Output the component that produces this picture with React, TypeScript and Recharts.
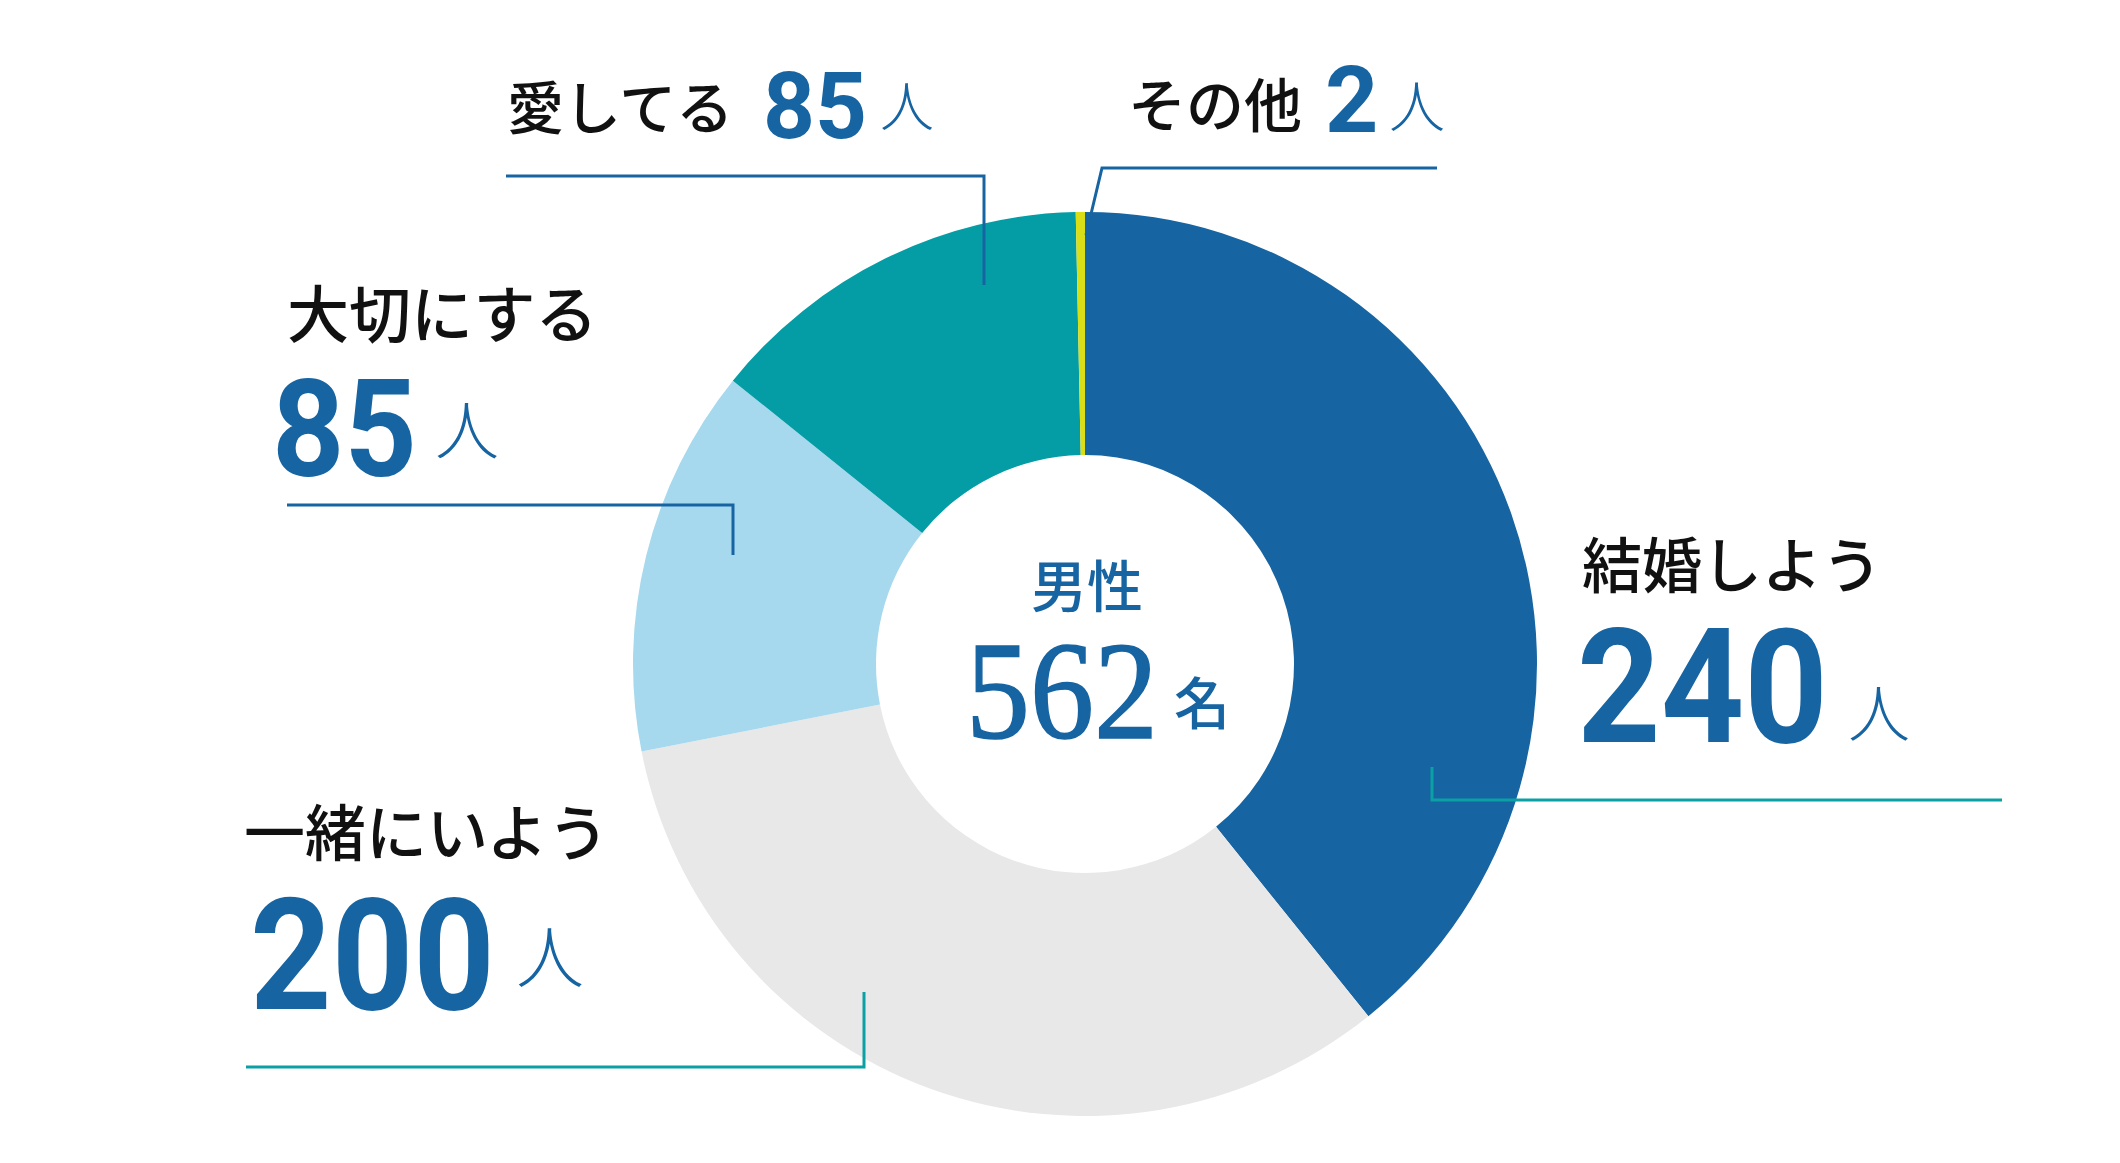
import React from 'react';
import { PieChart, Pie, Cell } from 'recharts';

// Survey answers (men), drawn clockwise from 12 o'clock
const categories = ['結婚しよう', '一緒にいよう', '大切にする', '愛してる', 'その他'];
const counts = [240, 200, 85, 85, 2];
const groupLabel = '男性';
const totalLabel = '562';
const unitPeople = '人';
const unitTotal = '名';

const sliceColors = ['#1664a2', '#e8e8e8', '#a6d9ee', '#049ca5', '#d9de16'];

const data = categories.map((name, i) => ({ name, value: counts[i] }));

const BLUE = '#1664a2';
const TEAL = '#0aa0a4';
const JP = '"Noto Sans CJK JP", "Noto Sans", sans-serif';
const NUM = 'Roboto, "Liberation Sans", sans-serif';
const SERIF = "'Liberation Serif', 'DejaVu Serif', 'Noto Serif', 'Noto Serif CJK JP', 'Times New Roman', Tinos, serif";

// label layout, offsets from the pie centre
const callouts = [
  {
    name: { x: 497, y: -76, size: 60 },
    num: { x: 492, y: 78, size: 160, len: 251 },
    unit: { x: 794, y: 73, size: 62 },
    line: [[347, 103], [347, 136], [917, 136]],
    lineColor: TEAL,
  },
  {
    name: { x: -841, y: 192, size: 61 },
    num: { x: -835, y: 345, size: 156, len: 245 },
    unit: { x: -535, y: 319, size: 68 },
    line: [[-221, 328], [-221, 403], [-839, 403]],
    lineColor: TEAL,
  },
  {
    name: { x: -798, y: -326, size: 62 },
    num: { x: -813, y: -188, size: 135, len: 145 },
    unit: { x: -618, y: -210, size: 64 },
    line: [[-352, -109], [-352, -159], [-798, -159]],
    lineColor: BLUE,
  },
  {
    name: { x: -578, y: -535, size: 57 },
    num: { x: -322, y: -526, size: 93, len: 104 },
    unit: { x: -178, y: -537, size: 54 },
    line: [[-101, -379], [-101, -488], [-579, -488]],
    lineColor: BLUE,
  },
  {
    name: { x: 43, y: -537, size: 58 },
    num: { x: 240, y: -532, size: 93, len: 0 },
    unit: { x: 332, y: -537, size: 56 },
    line: [[1, -429], [17, -496], [352, -496]],
    lineColor: BLUE,
  },
];

const renderCallout = (props: any) => {
  const { cx, cy, index, name, value } = props;
  const c = callouts[index];
  if (!c) return null;
  const pts = c.line.map(([dx, dy]) => `${cx + dx},${cy + dy}`).join(' ');
  return (
    <g key={`callout-${index}`}>
      <polyline points={pts} fill="none" stroke={c.lineColor} strokeWidth={3} />
      <text x={cx + c.name.x} y={cy + c.name.y} fontSize={c.name.size} fontFamily={JP} fontWeight={500} fill="#111">
        {name}
      </text>
      <text
        x={cx + c.num.x}
        y={cy + c.num.y}
        fontSize={c.num.size}
        fontFamily={NUM}
        fontWeight={700}
        fill={BLUE}
        {...(c.num.len ? { textLength: c.num.len, lengthAdjust: 'spacingAndGlyphs' } : {})}
      >
        {value}
      </text>
      <text x={cx + c.unit.x} y={cy + c.unit.y} fontSize={c.unit.size} fontFamily={JP} fontWeight={300} fill={BLUE} textAnchor="middle">
        {unitPeople}
      </text>
      {index === 0 && (
        <g>
          <text x={cx + 2} y={cy - 57} fontSize={56} fontFamily={JP} fontWeight={500} fill={BLUE} textAnchor="middle">
            {groupLabel}
          </text>
          <text
            x={cx - 119}
            y={cy + 74}
            fontSize={140}
            fill={BLUE}
            stroke={BLUE}
            strokeWidth={1.5}
            textLength={192}
            lengthAdjust="spacingAndGlyphs"
            style={{ fontFamily: SERIF }}
          >
            {totalLabel}
          </text>
          <text x={cx + 117} y={cy + 60} fontSize={56} fontFamily={JP} fontWeight={500} fill={BLUE} textAnchor="middle">
            {unitTotal}
          </text>
        </g>
      )}
    </g>
  );
};

const App = () => {
  return (
    <div style={{ position: 'absolute', left: 0, top: 0, width: 2120, height: 1163, background: '#fff' }}>
      <PieChart width={2120} height={1163} margin={{ top: 0, right: 0, bottom: 0, left: 0 }}>
        <Pie
          data={data}
          dataKey="value"
          nameKey="name"
          cx={1085}
          cy={664}
          innerRadius={209}
          outerRadius={452}
          startAngle={90}
          endAngle={-270}
          stroke="none"
          label={renderCallout}
          labelLine={false}
          isAnimationActive={false}
        >
          {data.map((d, i) => (
            <Cell key={d.name} fill={sliceColors[i]} />
          ))}
        </Pie>
      </PieChart>
    </div>
  );
};

export default App;
